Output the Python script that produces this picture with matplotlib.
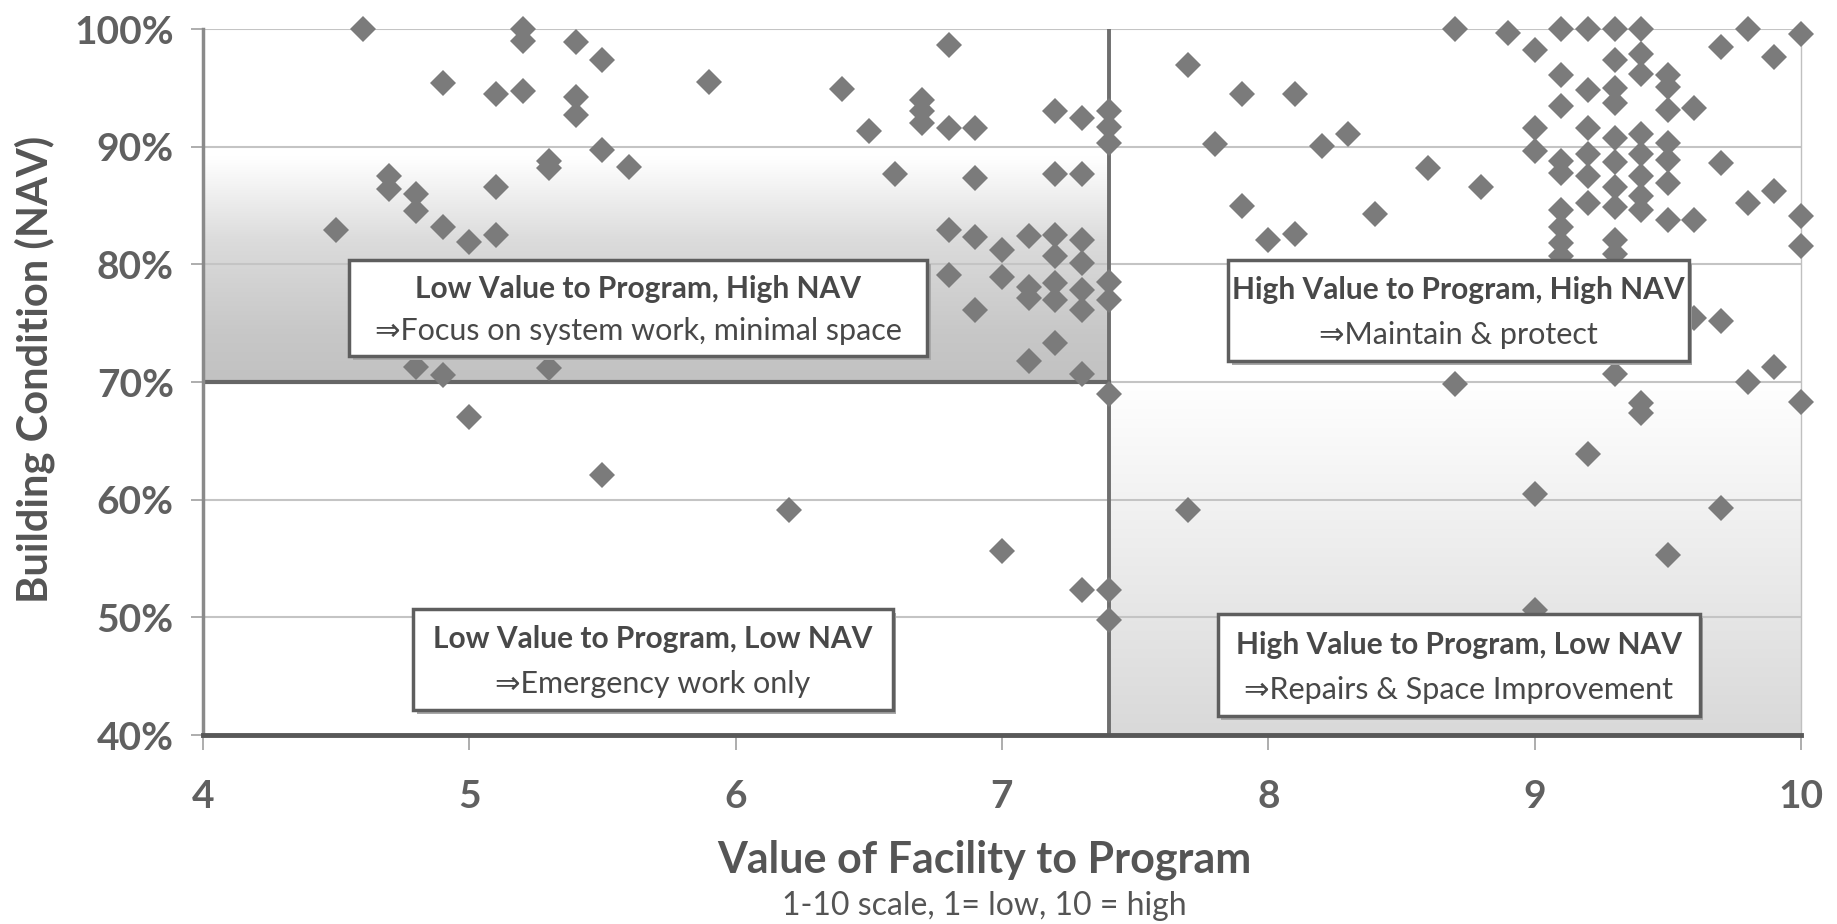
import numpy as np
import matplotlib.pyplot as plt
from matplotlib.patches import Rectangle

plt.rcParams['font.family'] = ['Lato', 'DejaVu Sans']

# value of facility to program (x) / building condition NAV in % (y), by quadrant
tl_x = [4.5, 4.6, 4.7, 4.7, 4.8, 4.8, 4.8, 4.9, 4.9, 4.9, 5.0, 5.1, 5.1, 5.1,
        5.2, 5.2, 5.2, 5.3, 5.3, 5.3, 5.4, 5.4, 5.4, 5.5, 5.5, 5.6, 5.9, 6.4,
        6.5, 6.6, 6.7, 6.7, 6.7, 6.8, 6.8, 6.8, 6.8, 6.9, 6.9, 6.9, 6.9, 7.0,
        7.0, 7.1, 7.1, 7.1, 7.1, 7.2, 7.2, 7.2, 7.2, 7.2, 7.2, 7.2, 7.3, 7.3,
        7.3, 7.3, 7.3, 7.3, 7.3, 7.4, 7.4, 7.4, 7.4, 7.4]
tl_y = [82.9, 100, 87.5, 86.4, 86.0, 84.5, 71.3, 95.4, 83.2, 70.6, 81.9, 94.5, 86.6, 82.5,
        100, 99.0, 94.7, 88.8, 88.2, 71.2, 98.9, 94.2, 92.7, 97.4, 89.7, 88.3, 95.5, 94.9,
        91.3, 87.7, 94.0, 93.0, 92.0, 98.6, 91.6, 82.9, 79.1, 91.6, 87.3, 82.3, 76.1, 81.2,
        78.9, 82.4, 78.1, 77.1, 71.8, 93.0, 87.7, 82.5, 80.7, 78.4, 77.0, 73.3, 92.4, 87.7,
        82.1, 80.1, 77.8, 76.1, 70.7, 93.0, 91.7, 90.3, 78.5, 77.0]

bl_x = [5.0, 5.5, 6.2, 7.0, 7.3, 7.4, 7.4, 7.4]
bl_y = [67.0, 62.1, 59.1, 55.6, 52.3, 52.3, 49.8, 69.0]

tr_x = [7.7, 7.8, 7.9, 7.9, 8.0, 8.1, 8.1, 8.2, 8.3, 8.4, 8.6, 8.7, 8.8, 8.9,
        9.0, 9.0, 9.0,
        9.1, 9.1, 9.1, 9.1, 9.1, 9.1, 9.1, 9.1, 9.1,
        9.2, 9.2, 9.2, 9.2, 9.2, 9.2,
        9.3, 9.3, 9.3, 9.3, 9.3, 9.3, 9.3, 9.3, 9.3, 9.3, 9.3,
        9.4, 9.4, 9.4, 9.4, 9.4, 9.4, 9.4, 9.4,
        9.5, 9.5, 9.5, 9.5, 9.5, 9.5, 9.5,
        9.6, 9.6, 9.6, 9.7, 9.7, 9.7, 9.8, 9.8, 9.8, 9.9, 9.9, 9.9,
        10.0, 10.0, 10.0]
tr_y = [96.9, 90.2, 94.5, 85.0, 82.1, 94.5, 82.6, 90.1, 91.1, 84.3, 88.2, 100, 86.6, 99.7,
        98.2, 91.6, 89.6,
        100, 96.1, 93.5, 88.8, 87.8, 84.6, 83.2, 81.8, 80.7,
        100, 94.8, 91.6, 89.4, 87.5, 85.2,
        100, 97.4, 95.0, 93.7, 90.7, 88.7, 86.6, 84.9, 82.1, 80.9, 70.7,
        100, 97.9, 96.2, 91.1, 89.4, 87.5, 85.8, 84.6,
        96.1, 95.1, 93.1, 90.3, 88.9, 86.9, 83.8,
        93.3, 83.8, 75.4, 98.5, 88.6, 75.2, 100, 85.2, 70.0, 97.6, 86.2, 71.3,
        99.6, 84.1, 81.6]

br_x = [7.7, 8.7, 9.0, 9.0, 9.2, 9.4, 9.4, 9.5, 9.7, 10.0]
br_y = [59.1, 69.8, 60.5, 50.6, 63.9, 68.2, 67.4, 55.3, 59.3, 68.3]

x_ticks = [4, 5, 6, 7, 8, 9, 10]
y_ticks = [40, 50, 60, 70, 80, 90, 100]
split_x = 7.4
split_y = 70

box_titles = ["Low Value to Program, High NAV", "High Value to Program, High NAV",
              "Low Value to Program, Low NAV", "High Value to Program, Low NAV"]
box_actions = ["\u21d2Focus on system work, minimal space", "\u21d2Maintain & protect",
               "\u21d2Emergency work only", "\u21d2Repairs & Space Improvement"]
# box extents (x0, x1, y0, y1) in data units
box_spots = [(4.55, 6.72, 72.2, 80.4), (7.85, 9.58, 71.8, 80.4),
             (4.79, 6.59, 42.1, 50.7), (7.81, 9.62, 41.6, 50.3)]

fig = plt.figure(figsize=(18.37, 9.24), dpi=100)
ax = fig.add_axes([0.1105, 0.2045, 0.8699, 0.7641])
ax.set_xlim(4, 10)
ax.set_ylim(40, 100)

# shaded quadrants
yy = np.linspace(split_y, 100, 200)[:, None]
g = np.interp(yy, [70, 74, 82, 89, 100], [0.76, 0.78, 0.86, 1.0, 1.0])
ax.imshow(np.dstack([g, g, g]), extent=(4, split_x, split_y, 100), origin='lower',
          aspect='auto', zorder=0)
yy = np.linspace(40, split_y, 200)[:, None]
g = np.interp(yy, [40, 52, 68, 70], [0.85, 0.91, 0.99, 1.0])
ax.imshow(np.dstack([g, g, g]), extent=(split_x, 10, 40, split_y), origin='lower',
          aspect='auto', zorder=0)

for t in y_ticks[1:]:
    ax.axhline(t, color='#c4c4c4', lw=1.5, zorder=1)

ax.plot([split_x, split_x], [40, 100], color='#6e6e6e', lw=2.8, zorder=2)
ax.plot([4, split_x], [split_y, split_y], color='#666666', lw=3, zorder=2)

all_x = tl_x + bl_x + tr_x + br_x
all_y = tl_y + bl_y + tr_y + br_y
ax.plot(all_x, all_y, 'D', color='#7b7b7b', markersize=13.5, markeredgewidth=0,
        zorder=3, clip_on=False)

for (x0, x1, y0, y1), t1, t2 in zip(box_spots, box_titles, box_actions):
    ax.add_patch(Rectangle((x0 + 0.012, y0 - 0.35), x1 - x0, y1 - y0, fc='#a8a8a8',
                           ec='none', zorder=4))
    ax.add_patch(Rectangle((x0, y0), x1 - x0, y1 - y0, fc='white', ec='#5e5e5e',
                           lw=2.5, zorder=5))
    cx = (x0 + x1) / 2
    h = y1 - y0
    ax.text(cx, y1 - h * 0.30, t1, ha='center', va='center', fontsize=21.5,
            weight='bold', color='#484848', zorder=6)
    ax.text(cx, y1 - h * 0.74, t2, ha='center', va='center', fontsize=22,
            color='#484848', zorder=6)

ax.set_xticks(x_ticks)
ax.set_yticks(y_ticks)
ax.set_yticklabels([f"{t}%" for t in y_ticks])
ax.tick_params(axis='x', length=11, width=1.2, color='#a0a0a0', pad=21,
               labelsize=28, labelcolor='#606060')
ax.tick_params(axis='y', length=9, width=1.2, color='#a0a0a0', pad=12,
               labelsize=28, labelcolor='#606060')
for lab in ax.get_xticklabels() + ax.get_yticklabels():
    lab.set_fontweight('bold')

ax.spines['top'].set_visible(False)
ax.spines['right'].set_color('#c0c0c0')
ax.spines['right'].set_linewidth(1)
ax.spines['left'].set_color('#8a8a8a')
ax.spines['left'].set_linewidth(2.5)
ax.spines['bottom'].set_color('#585858')
ax.spines['bottom'].set_linewidth(3.5)

fig.text(0.5357, 0.0693, "Value of Facility to Program", ha='center', va='center',
         fontsize=31, weight='bold', color='#555555')
fig.text(0.5357, 0.019, "1-10 scale, 1= low, 10 = high", ha='center', va='center',
         fontsize=23, color='#555555')
fig.text(0.019, 0.60, "Building Condition (NAV)", ha='center', va='center',
         rotation=90, fontsize=30, weight='bold', color='#555555')

fig.savefig("out.png", dpi=100)
